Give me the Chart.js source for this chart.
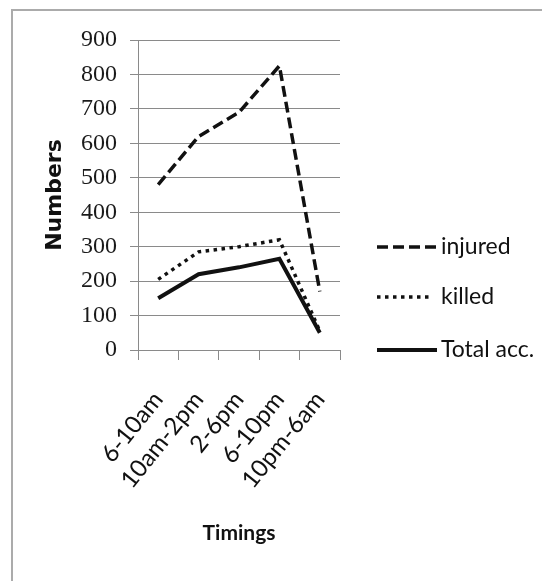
<!DOCTYPE html>
<html>
<head>
<meta charset="utf-8">
<script src="https://cdn.jsdelivr.net/npm/chart.js@4.4.1/dist/chart.umd.min.js"></script>
<style>
  html, body { margin: 0; padding: 0; background: #fff; overflow: hidden; }
  #frame { position: absolute; left: 11px; top: 9px; width: 600px; height: 640px;
           border-left: 2px solid #ababab; border-top: 2px solid #ababab; }
  #chart { position: absolute; left: 0; top: 0; }
</style>
</head>
<body>
<div id="frame"></div>
<canvas id="chart" width="542" height="581"></canvas>
<script>
// accidents by time of day
const timings = ['6-10am', '10am-2pm', '2-6pm', '6-10pm', '10pm-6am'];
const injured = [480, 620, 690, 825, 170];
const killed = [205, 285, 300, 320, 55];
const totalAcc = [150, 220, 240, 265, 50];

const yMin = 0;
const yMax = 900;
const yStep = 100;

const ink = '#111';
const gridGray = '#8a8a8a';

// legend drawn to the right of the plot, one row per dataset
const sideLegend = {
  id: 'sideLegend',
  afterDraw(chart, args, opts) {
    const ctx = chart.ctx;
    chart.data.datasets.forEach((ds, i) => {
      const y = opts.rows[i];
      ctx.save();
      ctx.strokeStyle = ds.borderColor;
      ctx.lineWidth = ds.borderWidth;
      ctx.setLineDash(ds.borderDash || []);
      ctx.beginPath();
      ctx.moveTo(opts.x0, y);
      ctx.lineTo(opts.lineEnds[i], y);
      ctx.stroke();
      ctx.setLineDash([]);
      ctx.fillStyle = ink;
      ctx.font = opts.font;
      ctx.textBaseline = 'middle';
      ctx.fillText(ds.label, opts.textX, y);
      ctx.restore();
    });
  }
};

new Chart(document.getElementById('chart'), {
  type: 'line',
  data: {
    labels: timings,
    datasets: [
      { label: 'injured', data: injured, borderColor: ink, borderWidth: 3.5, borderDash: [11, 5] },
      { label: 'killed', data: killed, borderColor: ink, borderWidth: 3.5, borderDash: [3.5, 4.5] },
      { label: 'Total acc.', data: totalAcc, borderColor: ink, borderWidth: 4 }
    ]
  },
  options: {
    responsive: false,
    animation: false,
    elements: { point: { radius: 0 }, line: { tension: 0 } },
    layout: { padding: { left: 0, right: 202, top: 40, bottom: 0 } },
    plugins: {
      legend: { display: false },
      tooltip: { enabled: false },
      sideLegend: {
        x0: 377, lineEnds: [437, 430, 437], textX: 441,
        rows: [247, 297, 350], font: '23px Lato'
      }
    },
    scales: {
      x: {
        offset: true,
        grid: { offset: true, drawOnChartArea: false, tickLength: 10, color: gridGray },
        border: { color: gridGray },
        ticks: {
          autoSkip: false, minRotation: 51, maxRotation: 51, padding: 26, color: ink,
          font: { family: 'Lato', size: 24 }
        },
        title: {
          display: true, text: 'Timings', color: ink,
          font: { family: 'Lato', size: 21, weight: 'bold' },
          padding: { top: 0, bottom: 35 }
        },
        afterFit(scale) { scale.height = 231; }
      },
      y: {
        min: yMin, max: yMax,
        ticks: {
          stepSize: yStep, padding: 13, color: '#1a1a1a',
          font: { family: 'Liberation Serif', size: 24 }
        },
        grid: { color: gridGray, tickLength: 8 },
        border: { color: gridGray },
        title: {
          display: true, text: 'Numbers', color: ink,
          font: { family: 'DejaVu Sans', size: 22, weight: 'bold' },
          padding: { top: 42, bottom: 0 }
        },
        afterFit(scale) { scale.width = 138; }
      }
    }
  },
  plugins: [sideLegend]
});
</script>
</body>
</html>
